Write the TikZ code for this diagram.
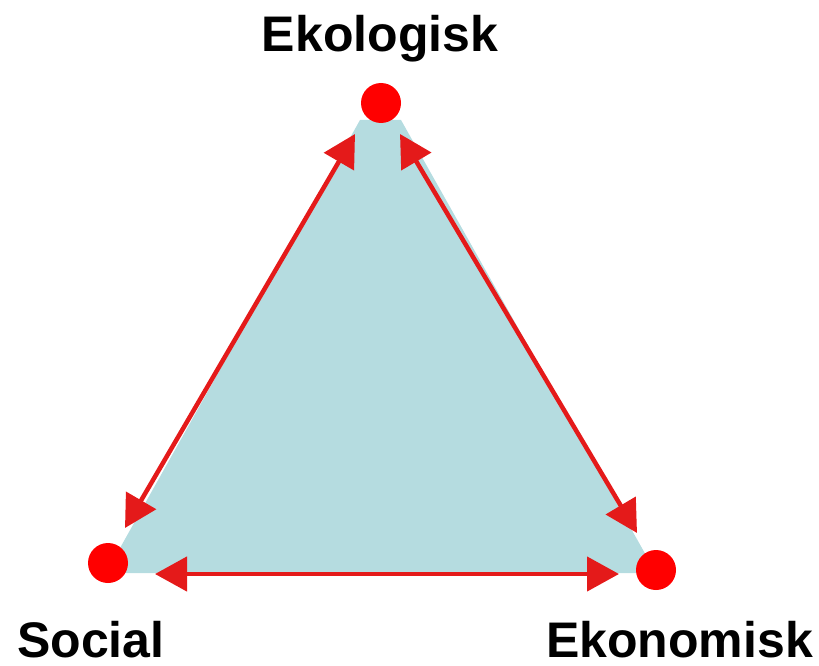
\documentclass[tikz,border=0pt]{standalone}
\usepackage{fontspec}
\setmainfont{Liberation Sans}
\usetikzlibrary{arrows.meta}
\definecolor{tri}{HTML}{B5DCE0}
\definecolor{arr}{HTML}{E41A1A}
\definecolor{dotred}{HTML}{FF0000}
\begin{document}
\begin{tikzpicture}[x=1pt,y=-1pt,
  dot/.style={circle,fill=dotred,draw=none,minimum size=40pt,inner sep=0pt},
  lab/.style={font=\fontsize{50}{60}\selectfont\bfseries,inner sep=0pt},
  link/.style={draw=arr,line width=4.5pt,{Triangle[length=32pt,width=34pt]}-{Triangle[length=32pt,width=34pt]}}]
\useasboundingbox (0,0) rectangle (819,666);
\fill[tri] (360,120) -- (401,120) -- (656,573) -- (106,573) -- cycle;
\node[dot] (E) at (381,103) {};
\node[dot] (S) at (108,563) {};
\node[dot] (K) at (656,570) {};
\coordinate (l1) at (355,134);
\coordinate (l2) at (125,528);
\coordinate (r1) at (400,134);
\coordinate (r2) at (637,533);
\coordinate (b1) at (155,574);
\coordinate (b2) at (619,574);
\draw[link] (l1) -- (l2);
\draw[link] (r1) -- (r2);
\draw[link] (b1) -- (b2);
\node[lab,anchor=base] (tE) at (380,52) {Ekologisk};
\node[lab,anchor=base west] (tS) at (17,657) {Social};
\node[lab,anchor=base east] (tK) at (813,657) {Ekonomisk};
\end{tikzpicture}
\end{document}
